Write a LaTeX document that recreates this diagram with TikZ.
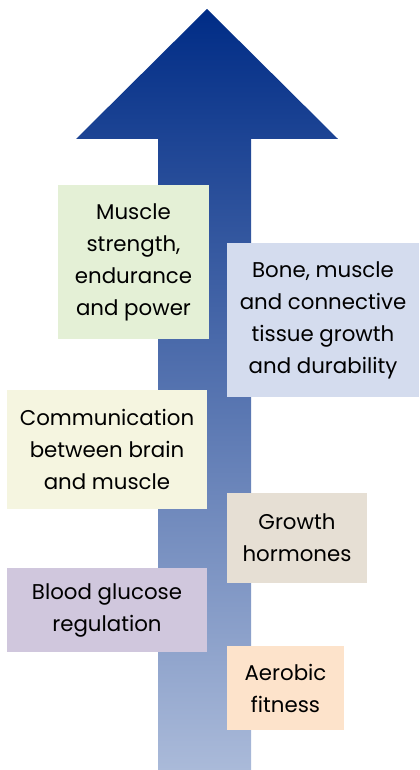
\documentclass[tikz,border=0pt]{standalone}
\usepackage{fontspec}
\setmainfont{Poppins}
\usetikzlibrary{positioning}

\definecolor{arrowtop}{HTML}{002C86}
\definecolor{arrowbot}{HTML}{AABAD9}
\definecolor{greenbox}{HTML}{E4F0D6}
\definecolor{bluebox}{HTML}{D4DCEE}
\definecolor{yellowbox}{HTML}{F5F5E0}
\definecolor{beigebox}{HTML}{E6DFD4}
\definecolor{purplebox}{HTML}{D0C7DD}
\definecolor{peachbox}{HTML}{FDE3CB}

\begin{document}
\begin{tikzpicture}[x=0.75pt, y=-0.75pt]
    % Define styles
    \tikzstyle{factor} = [rectangle, inner sep=0pt, align=center, font=\fontsize{16}{24}\selectfont, text=black]
    \useasboundingbox (0,0) rectangle (419,770);

    % Arrow
    \shade [top color=arrowtop, bottom color=arrowbot]
        (207,9) -- (338,139) -- (251,139) -- (251,770) -- (158,770) -- (158,139) -- (76,139) -- cycle;

    % Boxes
    \node [factor, fill=greenbox, minimum width=151*0.75pt, minimum height=154*0.75pt] (strength) at (133.5,262) {Muscle\\strength,\\endurance\\and power};
    \node [factor, fill=bluebox, minimum width=192*0.75pt, minimum height=154*0.75pt] (tissue) at (323,320) {Bone, muscle\\and connective\\tissue growth\\and durability};
    \node [factor, fill=yellowbox, minimum width=200*0.75pt, minimum height=119*0.75pt] (brain) at (107,449.5) {Communication\\between brain\\and muscle};
    \node [factor, fill=beigebox, minimum width=140*0.75pt, minimum height=90*0.75pt] (hormones) at (297,538) {Growth\\hormones};
    \node [factor, fill=purplebox, minimum width=200*0.75pt, minimum height=84*0.75pt] (glucose) at (107,610) {Blood glucose\\regulation};
    \node [factor, fill=peachbox, minimum width=117*0.75pt, minimum height=84*0.75pt] (aerobic) at (285.5,688) {Aerobic\\fitness};
\end{tikzpicture}
\end{document}
